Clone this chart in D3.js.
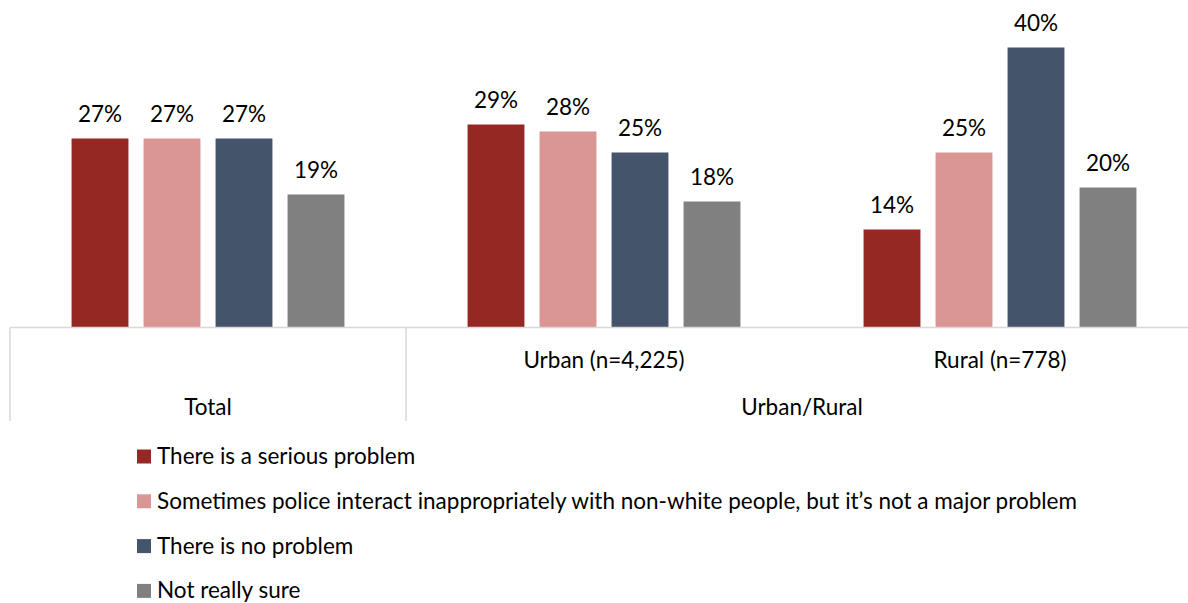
<!DOCTYPE html>
<html>
<head>
<meta charset="utf-8">
<script src="https://cdn.jsdelivr.net/npm/d3@7"></script>
<style>
  body { margin: 0; background: #fff; }
  text { font-family: Lato, "Open Sans", sans-serif; fill: #000; }
</style>
</head>
<body>
<div id="chart"></div>
<script>
var groups = ["Total", "Urban (n=4,225)", "Rural (n=778)"];
var groupParents = [
    { label: "Total", from: 0, to: 0 },
    { label: "Urban/Rural", from: 1, to: 2 }
];
var seriesNames = [
    "There is a serious problem",
    "Sometimes police interact inappropriately with non-white people, but it\u2019s not a major problem",
    "There is no problem",
    "Not really sure"
];
var seriesColors = ["#952822", "#da9694", "#44546a", "#808080"];
var serious = [27, 29, 14];
var sometimes = [27, 28, 25];
var noProblem = [27, 25, 40];
var notSure = [19, 18, 20];

var values = [serious, sometimes, noProblem, notSure];

var width = 1188, height = 603;
var baseY = 327.5;
var fontSize = "22.5px";

var svg = d3.select("#chart").append("svg")
    .attr("width", width)
    .attr("height", height);

var x0 = d3.scaleBand()
    .domain(d3.range(groups.length))
    .range([10, 1198]);

var x1 = d3.scaleBand()
    .domain(d3.range(seriesNames.length))
    .range([0, x0.bandwidth()])
    .paddingInner(0.21)
    .paddingOuter(0.855);

var y = d3.scaleLinear()
    .domain([0, 40])
    .range([baseY, 47.5]);

// bars
var g = svg.append("g").selectAll("g")
    .data(groups)
    .enter().append("g")
    .attr("transform", function (d, i) { return "translate(" + x0(i) + ",0)"; });

function rows(d, i) {
    return values.map(function (s, k) { return { k: k, v: s[i] }; });
}

g.selectAll("rect")
    .data(rows)
    .enter().append("rect")
    .attr("x", function (d) { return x1(d.k); })
    .attr("width", x1.bandwidth())
    .attr("y", function (d) { return y(d.v); })
    .attr("height", function (d) { return baseY - y(d.v); })
    .attr("fill", function (d) { return seriesColors[d.k]; });

g.selectAll("text")
    .data(rows)
    .enter().append("text")
    .attr("x", function (d) { return x1(d.k) + x1.bandwidth() / 2; })
    .attr("y", function (d) { return y(d.v) - 17; })
    .attr("text-anchor", "middle")
    .style("font-size", fontSize)
    .text(function (d) { return d.v + "%"; });

// axis lines
var axisColor = "#d9d9d9";
svg.append("line")
    .attr("x1", 10).attr("x2", width)
    .attr("y1", baseY).attr("y2", baseY)
    .attr("stroke", axisColor).attr("stroke-width", 1.5);

var seps = [x0(0), x0(1), x0(2) + x0.bandwidth()];
svg.selectAll(".sep")
    .data(seps)
    .enter().append("line")
    .attr("class", "sep")
    .attr("x1", function (d) { return d; }).attr("x2", function (d) { return d; })
    .attr("y1", baseY).attr("y2", 421)
    .attr("stroke", axisColor).attr("stroke-width", 1.5);

// category labels
svg.selectAll(".cat")
    .data(groups.slice(1))
    .enter().append("text")
    .attr("class", "cat")
    .attr("x", function (d, i) { return x0(i + 1) + x0.bandwidth() / 2; })
    .attr("y", 367.5)
    .attr("text-anchor", "middle")
    .style("font-size", fontSize)
    .text(function (d) { return d; });

svg.selectAll(".parent")
    .data(groupParents)
    .enter().append("text")
    .attr("class", "parent")
    .attr("x", function (d) { return (x0(d.from) + x0(d.to) + x0.bandwidth()) / 2; })
    .attr("y", 414.5)
    .attr("text-anchor", "middle")
    .style("font-size", fontSize)
    .text(function (d) { return d.label; });

// legend
var legend = svg.append("g").selectAll("g")
    .data(seriesNames)
    .enter().append("g")
    .attr("transform", function (d, i) { return "translate(137," + (456.5 + i * 44.8) + ")"; });

legend.append("rect")
    .attr("x", 0).attr("y", -7)
    .attr("width", 14).attr("height", 14)
    .attr("fill", function (d, i) { return seriesColors[i]; });

legend.append("text")
    .attr("x", 20)
    .attr("y", 7.5)
    .style("font-size", fontSize)
    .text(function (d) { return d; });
</script>
</body>
</html>
